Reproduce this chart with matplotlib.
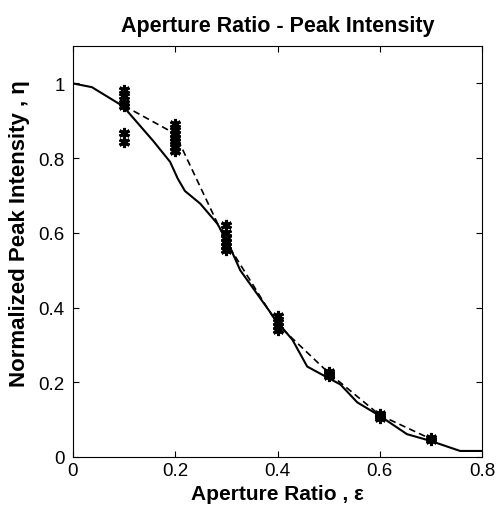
import matplotlib.pyplot as plt

# theory curve (solid)
theory_x = [0.0, 0.037, 0.098, 0.157, 0.19, 0.205, 0.219, 0.249, 0.282, 0.301, 0.327,
            0.399, 0.429, 0.458, 0.497, 0.523, 0.556, 0.601, 0.653, 0.699, 0.757, 0.8]
theory_y = [1.0, 0.99, 0.939, 0.846, 0.79, 0.745, 0.712, 0.678, 0.625, 0.58, 0.5,
            0.362, 0.314, 0.242, 0.213, 0.194, 0.146, 0.109, 0.061, 0.043, 0.016, 0.016]

# mean of simulated runs (dashed)
mean_x = [0.1, 0.2, 0.3, 0.4, 0.5, 0.6, 0.7]
mean_y = [0.94, 0.865, 0.575, 0.355, 0.225, 0.112, 0.048]

# individual runs (markers)
run_x = [0.1] * 6 + [0.2] * 7 + [0.3] * 6 + [0.4] * 4 + [0.5] * 3 + [0.6] * 3 + [0.7] * 2
run_y = [0.983, 0.965, 0.948, 0.939, 0.868, 0.844,
         0.89, 0.875, 0.865, 0.855, 0.845, 0.83, 0.82,
         0.62, 0.60, 0.585, 0.575, 0.565, 0.555,
         0.378, 0.36, 0.35, 0.34,
         0.228, 0.222, 0.218,
         0.115, 0.11, 0.105,
         0.05, 0.046]

plt.rcParams['font.family'] = ['Liberation Sans', 'DejaVu Sans']

fig = plt.figure(figsize=(4.96, 5.06), dpi=100)
ax = fig.add_axes([0.147, 0.095, 0.825, 0.812])

ax.plot(theory_x, theory_y, 'k-', lw=1.5)
ax.plot(mean_x, mean_y, 'k--', lw=1.2, dashes=(4, 2.5))
ax.plot(run_x, run_y, 'k', ls='none', marker=(6, 2, 0), ms=8, mew=2.2)

ax.set_xlim(0, 0.8)
ax.set_ylim(0, 1.1)
ax.set_xticks([0, 0.2, 0.4, 0.6, 0.8])
ax.set_xticklabels(['0', '0.2', '0.4', '0.6', '0.8'])
ax.set_yticks([0, 0.2, 0.4, 0.6, 0.8, 1.0])
ax.set_yticklabels(['0', '0.2', '0.4', '0.6', '0.8', '1'])
ax.tick_params(direction='in', top=True, right=True, labelsize=13.5, length=4)
ax.tick_params(axis='x', pad=4)
ax.tick_params(axis='y', pad=6)

ax.set_title('Aperture Ratio - Peak Intensity', fontsize=15.5, fontweight='bold', pad=11)
ax.set_xlabel('Aperture Ratio , ε', fontsize=15, fontweight='bold')
ax.xaxis.set_label_coords(0.5, -0.103)
ax.xaxis.label.set_va('baseline')
ax.set_ylabel('Normalized Peak Intensity , η', fontsize=16, fontweight='bold')
ax.yaxis.set_label_coords(-0.105, 0.545)

fig.savefig('out.png', dpi=100)
